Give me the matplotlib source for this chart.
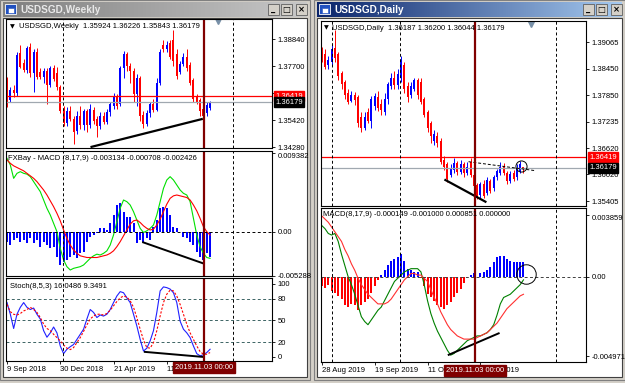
import numpy as np
import matplotlib
matplotlib.use("Agg")
import matplotlib.pyplot as plt
from matplotlib.patches import Rectangle
from matplotlib.transforms import blended_transform_factory as blend

plt.rcParams['font.family'] = ['Liberation Sans', 'DejaVu Sans']

# ---------------- weekly USDSGD ----------------
wk_open = [1.3711, 1.3627, 1.3669, 1.3655, 1.3824, 1.3781, 1.3753, 1.3850, 1.3740, 1.3830,
           1.3745, 1.3725, 1.3750, 1.3690, 1.3760, 1.3740, 1.3680, 1.3590, 1.3530, 1.3580,
           1.3545, 1.3495, 1.3560, 1.3520, 1.3580, 1.3520, 1.3585, 1.3545, 1.3515, 1.3560,
           1.3535, 1.3575, 1.3600, 1.3640, 1.3610, 1.3760, 1.3820, 1.3770, 1.3750, 1.3650,
           1.3720, 1.3565, 1.3525, 1.3570, 1.3610, 1.3585, 1.3700, 1.3860, 1.3840, 1.3866,
           1.3880, 1.3820, 1.3745, 1.3780, 1.3810, 1.3775, 1.3710, 1.3640, 1.3625, 1.3590,
           1.3570, 1.35924]
wk_close = [1.3627, 1.3669, 1.3655, 1.3817, 1.3767, 1.3753, 1.3845, 1.3740, 1.3830, 1.3725,
            1.3725, 1.3750, 1.3690, 1.3760, 1.3715, 1.3680, 1.3580, 1.3530, 1.3580, 1.3545,
            1.3490, 1.3560, 1.3520, 1.3580, 1.3520, 1.3590, 1.3540, 1.3515, 1.3560, 1.3535,
            1.3575, 1.3610, 1.3640, 1.3600, 1.3760, 1.3820, 1.3770, 1.3750, 1.3650, 1.3720,
            1.3560, 1.3525, 1.3570, 1.3610, 1.3585, 1.3700, 1.3830, 1.3840, 1.3860, 1.3810,
            1.3790, 1.3730, 1.3780, 1.3810, 1.3760, 1.3700, 1.3630, 1.3620, 1.3580, 1.3560,
            1.3605, 1.36179]
wk_high = [1.3725, 1.3683, 1.3690, 1.3830, 1.3858, 1.3800, 1.3855, 1.3866, 1.3840, 1.3845,
           1.3760, 1.3760, 1.3760, 1.3770, 1.3775, 1.3767, 1.3690, 1.3600, 1.3595, 1.3600,
           1.3560, 1.3580, 1.3600, 1.3590, 1.3590, 1.3610, 1.3595, 1.3560, 1.3575, 1.3575,
           1.3590, 1.3620, 1.3655, 1.3650, 1.3770, 1.3835, 1.3830, 1.3781, 1.3760, 1.3735,
           1.3730, 1.3580, 1.3585, 1.3620, 1.3630, 1.3720, 1.3840, 1.3880, 1.3875, 1.3880,
           1.3920, 1.3840, 1.3790, 1.3825, 1.3840, 1.3785, 1.3720, 1.3650, 1.3635, 1.3600,
           1.3620, 1.36226]
wk_low = [1.3599, 1.3620, 1.3640, 1.3645, 1.3760, 1.3745, 1.3740, 1.3725, 1.3660, 1.3715,
          1.3715, 1.3700, 1.3610, 1.3680, 1.3705, 1.3670, 1.3570, 1.3515, 1.3515, 1.3540,
          1.3440, 1.3485, 1.3505, 1.3500, 1.3490, 1.3510, 1.3525, 1.3470, 1.3505, 1.3525,
          1.3525, 1.3560, 1.3590, 1.3590, 1.3600, 1.3720, 1.3750, 1.3700, 1.3620, 1.3600,
          1.3540, 1.3510, 1.3515, 1.3555, 1.3575, 1.3580, 1.3690, 1.3830, 1.3830, 1.3800,
          1.3770, 1.3715, 1.3735, 1.3770, 1.3750, 1.3690, 1.3620, 1.3610, 1.3560, 1.3545,
          1.3560, 1.35843]
wk_hist = [-0.0012, -0.0016, -0.0010, -0.0008, -0.0012, -0.0010, -0.0014, -0.0008, -0.0014, -0.0010,
           -0.0018, -0.0012, -0.0016, -0.0020, -0.0018, -0.0030, -0.0040, -0.0036, -0.0034, -0.0030,
           -0.0028, -0.0032, -0.0026, -0.0024, -0.0012, -0.0006, -0.0004, -0.0002, 0.0004, 0.0004,
           0.0002, 0.0010, 0.0020, 0.0032, 0.0034, 0.0024, 0.0018, 0.0018, 0.0010, -0.0014,
           -0.0010, -0.0012, -0.0008, -0.0010, 0.0006, 0.0014, 0.0028, 0.0030, 0.0028, 0.0020,
           0.0006, 0.0004, 0.0000, -0.0006, -0.0008, -0.0012, -0.0016, -0.0024, -0.0030, -0.0034,
           -0.0026, -0.0030]
wk_macd = [0.0088, 0.0080, 0.0064, 0.0070, 0.0072, 0.0070, 0.0069, 0.0066, 0.0060, 0.0054,
           0.0048, 0.0038, 0.0028, 0.0020, 0.0010, 0.0000, -0.0020, -0.0034, -0.0042, -0.0046,
           -0.0044, -0.0043, -0.0042, -0.0040, -0.0036, -0.0032, -0.0029, -0.0027, -0.0028, -0.0026,
           -0.0023, -0.0016, -0.0004, 0.0012, 0.0028, 0.0038, 0.0036, 0.0032, 0.0024, 0.0014,
           0.0004, -0.0001, 0.0001, 0.0004, 0.0008, 0.0020, 0.0036, 0.0052, 0.0062, 0.0066,
           0.0062, 0.0056, 0.0050, 0.0046, 0.0044, 0.0036, 0.0016, -0.0004, -0.0018, -0.0026,
           -0.0031, -0.0032]
wk_signal = [0.0086, 0.0082, 0.0079, 0.0077, 0.0075, 0.0073, 0.0070, 0.0067, 0.0064, 0.0060,
             0.0055, 0.0050, 0.0044, 0.0037, 0.0030, 0.0022, 0.0013, 0.0002, -0.0008, -0.0016,
             -0.0022, -0.0026, -0.0029, -0.0030, -0.0031, -0.0031, -0.0031, -0.0031, -0.0030, -0.0029,
             -0.0028, -0.0026, -0.0023, -0.0018, -0.0012, -0.0005, 0.0002, 0.0009, 0.0013, 0.0014,
             0.0011, 0.0007, 0.0004, 0.0002, 0.0003, 0.0008, 0.0015, 0.0024, 0.0033, 0.0040,
             0.0043, 0.0044, 0.0043, 0.0042, 0.0041, 0.0038, 0.0032, 0.0025, 0.0016, 0.0006,
             0.0000, -0.0004]
wk_stoch_k = [74.5, 58.5, 39, 58.5, 68, 74.5, 68, 65, 67, 58.5,
              52, 36, 27, 33, 41, 33, 15, 4.5, 10.5, 14,
              17, 24, 31, 38, 52, 65, 61, 54, 57.5, 56,
              58.5, 65, 74.5, 83.5, 89.5, 88, 81, 74.5, 58.5, 42.5,
              24, 8, 12, 22, 36, 61, 90.5, 96, 95, 93,
              88, 74.5, 49, 38, 33, 26.5, 15, 4.5, 1.5, 3,
              6, 10.5]
wk_stoch_d = [72, 62, 58.5, 57.5, 59.5, 63, 65, 68, 65, 61,
              54, 45, 39, 36, 31, 26.5, 22, 16.5, 12, 10,
              12.8, 19.7, 26.5, 35, 44, 52, 56, 58.5, 58.5, 57.5,
              59.5, 64, 70, 76, 81, 83.5, 82, 77, 68, 54,
              38, 23, 12.8, 12, 19.7, 36, 56, 74.5, 86, 91.5,
              90.5, 83.5, 72, 58.5, 45, 33, 24, 15, 7.3, 3.7,
              3.7, 6]
wk_date_idx = [0, 16, 32, 48]
wk_date_lbl = ["9 Sep 2018", "30 Dec 2018", "21 Apr 2019", "11 Aug 2019"]
wk_price_ticks = [1.38840, 1.37700, 1.36560, 1.35420, 1.34280]
wk_grid = [16.8, 67.9]
wk_cursor = 59.2
wk_trend_price = ([25.4, 58.5], [1.3429, 1.3546])
wk_trend_macd = ([40.9, 58.9], [-0.00128, -0.0038])
wk_trend_stoch = ([41.4, 58.9], [6.9, 0.0])

# ---------------- daily USDSGD ----------------
dy_open = [1.3885, 1.3880, 1.3855, 1.3862, 1.3893, 1.3880, 1.3835, 1.3815, 1.3790, 1.3772,
           1.3785, 1.3780, 1.3735, 1.3710, 1.3745, 1.3725, 1.3760, 1.3780, 1.3765, 1.3745,
           1.3775, 1.3805, 1.3825, 1.3808, 1.3825, 1.3855, 1.3805, 1.3785, 1.3800, 1.3820,
           1.3815, 1.3775, 1.3745, 1.3720, 1.3680, 1.3690, 1.3680, 1.3635, 1.3625, 1.3600,
           1.3612, 1.3628, 1.3608, 1.3625, 1.3605, 1.3630, 1.3600, 1.3578, 1.3555, 1.3580,
           1.3560, 1.3588, 1.3570, 1.3595, 1.3605, 1.3622, 1.3605, 1.3588, 1.3605, 1.3595,
           1.3610, 1.36187]
dy_close = [1.3870, 1.3850, 1.3865, 1.3890, 1.3870, 1.3830, 1.3810, 1.3785, 1.3770, 1.3785,
            1.3773, 1.3720, 1.3710, 1.3735, 1.3725, 1.3775, 1.3782, 1.3755, 1.3750, 1.3775,
            1.3810, 1.3825, 1.3808, 1.3833, 1.3866, 1.3800, 1.3780, 1.3805, 1.3820, 1.3785,
            1.3770, 1.3740, 1.3710, 1.3690, 1.3695, 1.3675, 1.3630, 1.3620, 1.3592, 1.3615,
            1.3628, 1.3608, 1.3625, 1.3605, 1.3620, 1.3600, 1.3575, 1.3552, 1.3580, 1.3553,
            1.3590, 1.3565, 1.3595, 1.3610, 1.3620, 1.3605, 1.3588, 1.3602, 1.3592, 1.3618,
            1.3625, 1.36179]
dy_high = [1.3895, 1.3890, 1.3875, 1.3900, 1.3935, 1.3885, 1.3840, 1.3820, 1.3798, 1.3795,
           1.3792, 1.3785, 1.3745, 1.3745, 1.3755, 1.3782, 1.3790, 1.3795, 1.3775, 1.3790,
           1.3815, 1.3835, 1.3840, 1.3845, 1.3875, 1.3862, 1.3815, 1.3815, 1.3825, 1.3825,
           1.3825, 1.3780, 1.3750, 1.3725, 1.3705, 1.3700, 1.3685, 1.3645, 1.3630, 1.3625,
           1.3640, 1.3632, 1.3635, 1.3630, 1.3630, 1.3640, 1.3605, 1.3582, 1.3585, 1.3590,
           1.3595, 1.3592, 1.3600, 1.3615, 1.3630, 1.3628, 1.3610, 1.3610, 1.3612, 1.3625,
           1.3632, 1.36200]
dy_low = [1.3860, 1.3845, 1.3845, 1.3855, 1.3862, 1.3820, 1.3800, 1.3775, 1.3765, 1.3768,
          1.3762, 1.3712, 1.3700, 1.3705, 1.3720, 1.3708, 1.3750, 1.3748, 1.3738, 1.3738,
          1.3765, 1.3800, 1.3800, 1.3800, 1.3815, 1.3790, 1.3770, 1.3778, 1.3795, 1.3775,
          1.3765, 1.3735, 1.3700, 1.3675, 1.3670, 1.3665, 1.3625, 1.3612, 1.3585, 1.3595,
          1.3605, 1.3600, 1.3603, 1.3595, 1.3600, 1.3595, 1.3568, 1.3545, 1.3548, 1.3548,
          1.3555, 1.3560, 1.3565, 1.3590, 1.3600, 1.3600, 1.3580, 1.3583, 1.3588, 1.3590,
          1.3605, 1.36044]
dy_hist = [-0.0006, -0.0007, -0.0005, -0.0009, -0.0010, -0.0012, -0.0014, -0.0018, -0.0019, -0.0017,
           -0.0018, -0.0021, -0.0018, -0.0016, -0.0014, -0.0010, -0.0006, -0.0002, 0.0001, 0.0004,
           0.0007, 0.0010, 0.0011, 0.0012, 0.0014, 0.0010, 0.0005, 0.0004, 0.0003, 0.0003,
           -0.0001, -0.0006, -0.0011, -0.0013, -0.0015, -0.0018, -0.0019, -0.0020, -0.0018, -0.0016,
           -0.0013, -0.0010, -0.0008, -0.0004, 0.0000, 0.0001, 0.0002, 0.0000, 0.0002, 0.0003,
           0.0004, 0.0006, 0.0009, 0.0012, 0.0013, 0.0013, 0.0011, 0.0010, 0.0009, 0.0009,
           0.0009, 0.0009]
dy_macd = [0.0032, 0.0030, 0.0027, 0.0026, 0.0027, 0.0022, 0.0014, 0.0007, 0.0000, -0.0005,
           -0.0011, -0.0018, -0.0025, -0.0028, -0.0030, -0.0027, -0.0024, -0.0021, -0.0019, -0.0015,
           -0.0011, -0.0007, -0.0003, -0.0001, 0.0001, 0.0003, 0.0004, 0.0005, 0.0005, 0.0005,
           0.0003, -0.0005, -0.0015, -0.0023, -0.0029, -0.0034, -0.0038, -0.0042, -0.0046, -0.0049,
           -0.0048, -0.0046, -0.0044, -0.0042, -0.0040, -0.0039, -0.0038, -0.0037, -0.0037, -0.0036,
           -0.0035, -0.0033, -0.0030, -0.0024, -0.0017, -0.0013, -0.0012, -0.0011, -0.0009, -0.0007,
           -0.0005, -0.0002]
dy_signal = [0.0038, 0.0036, 0.0034, 0.0031, 0.0028, 0.0025, 0.0022, 0.0017, 0.0013, 0.0008,
             0.0004, -0.0001, -0.0005, -0.0008, -0.0011, -0.0013, -0.0015, -0.0017, -0.0017, -0.0017,
             -0.0016, -0.0014, -0.0011, -0.0008, -0.0005, -0.0002, 0.0000, 0.0002, 0.0002, 0.0001,
             0.0001, -0.0001, -0.0003, -0.0008, -0.0013, -0.0017, -0.0022, -0.0026, -0.0030, -0.0033,
             -0.0035, -0.0037, -0.0038, -0.0039, -0.0039, -0.0039, -0.0039, -0.0038, -0.0037, -0.0036,
             -0.0035, -0.0033, -0.0031, -0.0029, -0.0026, -0.0023, -0.0020, -0.0018, -0.0016, -0.0014,
             -0.0012, -0.0011]
dy_date_idx = [0, 16, 32, 48]
dy_date_lbl = ["28 Aug 2019", "19 Sep 2019", "11 Oct 2019", "5 Nov 2019"]
dy_price_ticks = [1.39065, 1.38450, 1.37850, 1.37235, 1.36620, 1.36020, 1.35405]
dy_grid = [3.1, 23.7, 70.7]
dy_cursor = 46.4
dy_trend_price = ([37.4, 49.5], [1.35892, 1.35392])
dy_dash_price = ([44.4, 64.6], [1.36314, 1.36107])
dy_trend_macd = ([38.4, 53.5], [-0.00488, -0.00354])
dy_circle_price = (60.4, 1.36222)
dy_circle_macd = (61.9, 0.00017)

level_red = 1.36419
level_bid = 1.36179

W, H = 625, 383
FS = 5.5
fig = plt.figure(figsize=(W / 100, H / 100), dpi=100)


def px_axes(x0, y0, x1, y1):
    return fig.add_axes([x0 / W, 1 - y1 / H, (x1 - x0) / W, (y1 - y0) / H])


# background, windows, title bars
bg = px_axes(0, 0, W, H)
bg.axis('off')
bg.add_patch(Rectangle((0, 0), W, H, color='#d4d0c8'))


def window(x0, x1, title, c0, c1, tcol):
    bg.add_patch(Rectangle((x0, 0), x1 - x0, 380, fc='#d4d0c8', ec='#808080', lw=0.8))
    bg.add_patch(Rectangle((x0 + 3, 18), x1 - x0 - 6, 359, fc='white', ec='#404040', lw=0.8))
    grad = np.linspace(0, 1, 200)[None, :, None]
    col = np.array(matplotlib.colors.to_rgb(c0)) * (1 - grad) + np.array(matplotlib.colors.to_rgb(c1)) * grad
    bg.imshow(col, extent=(x0 + 3, x1 - 3, 17, 2), aspect='auto', zorder=1)
    bg.add_patch(Rectangle((x0 + 5, 4), 11, 10, fc='#2050c0', ec='white', lw=0.6, zorder=2))
    bg.add_patch(Rectangle((x0 + 8, 8), 6, 5, fc='white', ec='#2050c0', lw=0.4, zorder=2))
    bg.text(x0 + 20, 10, title, color=tcol, fontsize=7.2, fontweight='bold', va='center', zorder=3)
    for k, g in enumerate(['_', '□', '×']):
        bx = x1 - 42 + k * 13 + (2 if k == 2 else 0)
        bg.add_patch(Rectangle((bx, 4), 11, 11, fc='#d4d0c8', ec='#606060', lw=0.6, zorder=2))
        bg.text(bx + 5.5, 9.5, g, fontsize=6, ha='center', va='center',
                fontweight='bold', zorder=3, family=['DejaVu Sans'])


window(0, 310, "USDSGD,Weekly", '#808080', '#c8c8c8', '#e8e8e8')
window(314, 625, "USDSGD,Daily", '#0a246a', '#a6caf0', 'white')
bg.set_xlim(0, W)
bg.set_ylim(H, 0)


def panel(box, xlim, ylim, ticks, labels, top_label_down=False):
    ax = px_axes(*box)
    ax.set_xlim(*xlim)
    ax.set_ylim(*ylim)
    ax.yaxis.tick_right()
    ax.set_yticks(ticks)
    ax.set_yticklabels(labels, fontsize=FS)
    ax.tick_params(axis='y', length=2.5, width=0.6, pad=1.5)
    ax.set_xticks([])
    if top_label_down:
        ax.get_yticklabels()[0].set_va('top')
    for s in ax.spines.values():
        s.set_linewidth(0.8)
    return ax


def candles(ax, o, h, l, c):
    o, h, l, c = map(np.asarray, (o, h, l, c))
    x = np.arange(len(c))
    col = np.where(c >= o, '#0000ff', '#ff0000')
    ax.vlines(x, l, h, colors=col, lw=0.7)
    ax.bar(x, np.maximum(np.abs(c - o), 0.00006), bottom=np.minimum(o, c),
           width=0.6, color=col, lw=0)


def vlines(ax, grid, cursor):
    for g in grid:
        ax.axvline(g, color='black', lw=0.7, ls=(0, (3, 2.5)))
    ax.axvline(cursor, color='#800000', lw=1.6)


def date_axis(ax, idx, lbl, cursor):
    ax.set_xticks(idx)
    ax.set_xticklabels(lbl, ha='left', fontsize=FS)
    ax.tick_params(axis='x', length=2, width=0.6, pad=1.5)
    ax.text(cursor, -0.035, "2019.11.03 00:00", transform=blend(ax.transData, ax.transAxes),
            ha='center', va='top', fontsize=FS, color='white', zorder=20, clip_on=False,
            bbox=dict(boxstyle='square,pad=0.25', fc='#800000', ec='#800000'))


def price_boxes(ax):
    tr = blend(ax.transAxes, ax.transData)
    ax.axhline(level_red, color='#ff0000', lw=0.9)
    ax.axhline(level_bid, color='#a0a8b0', lw=0.9)
    ax.text(1.012, level_red, f"{level_red:.5f}", transform=tr, va='center', ha='left',
            fontsize=FS, color='white', zorder=20, clip_on=False,
            bbox=dict(boxstyle='square,pad=0.2', fc='#ff0000', ec='#ff0000'))
    ax.text(1.012, level_bid, f"{level_bid:.5f}", transform=tr, va='center', ha='left',
            fontsize=FS, color='white', zorder=21, clip_on=False,
            bbox=dict(boxstyle='square,pad=0.2', fc='black', ec='black'))


# ---------------- weekly panels ----------------
wk_xlim = (-0.3, 79.6)
wx = np.arange(len(wk_close))

ax1 = panel((6, 19, 272, 148), wk_xlim, (1.34241, 1.39684), wk_price_ticks,
            [f"{t:.5f}" for t in wk_price_ticks])
candles(ax1, wk_open, wk_high, wk_low, wk_close)
price_boxes(ax1)
ax1.plot(*wk_trend_price, color='black', lw=1.6)
vlines(ax1, wk_grid, wk_cursor)
ax1.plot(63.4, 0.985, marker='v', ms=4, color='#7890a8', transform=blend(ax1.transData, ax1.transAxes))

ax2 = panel((6, 151, 272, 276), wk_xlim, (-0.00532, 0.00968), [0.009382, 0.0, -0.005288],
            ["0.009382", "0.00", "-0.005288"], top_label_down=True)
ax2.bar(wx, wk_hist, width=0.6, color='#0000ff', lw=0)
ax2.plot(wx, wk_macd, color='#00e000', lw=0.8)
ax2.plot(wx, wk_signal, color='#ff0000', lw=0.8)
ax2.axhline(0, color='black', lw=0.7, ls=(0, (3, 2.5)))
ax2.plot(*wk_trend_macd, color='black', lw=1.4)
vlines(ax2, wk_grid, wk_cursor)

ax3 = panel((6, 278, 272, 361), wk_xlim, (-5.6, 108.2), [100, 80, 50, 20, 0],
            ["100", "80", "50", "20", "0"])
for lv in (20, 50, 80):
    ax3.axhline(lv, color='#3c6464', lw=0.7, ls=(0, (3, 2.5)))
ax3.plot(wx, wk_stoch_k, color='#2020ff', lw=0.8)
ax3.plot(wx, wk_stoch_d, color='#ff0000', lw=0.8, ls=(0, (2, 1.5)))
ax3.plot(*wk_trend_stoch, color='black', lw=1.4)
vlines(ax3, wk_grid, wk_cursor)
date_axis(ax3, wk_date_idx, wk_date_lbl, wk_cursor)

# ---------------- daily panels ----------------
dy_xlim = (-0.2, 79.9)
dx = np.arange(len(dy_close))

ax4 = panel((321, 21, 586, 206), dy_xlim, (1.35293, 1.39556), dy_price_ticks,
            [f"{t:.5f}" for t in dy_price_ticks])
candles(ax4, dy_open, dy_high, dy_low, dy_close)
price_boxes(ax4)
ax4.plot(*dy_trend_price, color='black', lw=1.6)
ax4.plot(*dy_dash_price, color='black', lw=0.7, ls=(0, (3, 2)))
ax4.plot(*dy_circle_price, marker='o', ms=8, mfc='none', mec='black', mew=0.7)
vlines(ax4, dy_grid, dy_cursor)
ax4.plot(63.4, 0.985, marker='v', ms=4, color='#7890a8', transform=blend(ax4.transData, ax4.transAxes))

ax5 = panel((321, 208, 586, 362), dy_xlim, (-0.00533, 0.00429), [0.003859, 0.0, -0.004971],
            ["0.003859", "0.00", "-0.004971"], top_label_down=True)
hc = np.where(np.asarray(dy_hist) >= 0, '#0000ff', '#ff0000')
ax5.bar(dx, dy_hist, width=0.6, color=hc, lw=0)
ax5.plot(dx, dy_macd, color='#008000', lw=0.8)
ax5.plot(dx, dy_signal, color='#ff3030', lw=0.8)
ax5.axhline(0, color='#404040', lw=0.7, ls=(0, (3, 2.5)))
ax5.plot(*dy_trend_macd, color='black', lw=1.4)
ax5.plot(*dy_circle_macd, marker='o', ms=14, mfc='none', mec='black', mew=0.7)
vlines(ax5, dy_grid, dy_cursor)
date_axis(ax5, dy_date_idx, dy_date_lbl, dy_cursor)

# ---------------- header texts ----------------
fg = px_axes(0, 0, W, H)
fg.axis('off')
fg.set_xlim(0, W)
fg.set_ylim(H, 0)
hdr = dict(fontsize=FS, va='center', ha='left', color='black')
fg.text(10, 27, "▼", fontsize=4.5, va='center', family=['DejaVu Sans'])
fg.text(19, 27, "USDSGD,Weekly  1.35924 1.36226 1.35843 1.36179", **hdr)
fg.text(8, 159, "FXBay - MACD (8,17,9) -0.003134 -0.000708 -0.002426", **hdr)
fg.text(10, 286, "Stoch(8,5,3) 16.0486 9.3491", **hdr)
fg.text(324, 28, "▼", fontsize=4.5, va='center', family=['DejaVu Sans'])
fg.text(332, 28, "USDSGD,Daily  1.36187 1.36200 1.36044 1.36179", **hdr)
fg.text(323, 215, "MACD(8,17,9) -0.000149 -0.001000 0.000851 0.000000", **hdr)

fig.savefig("out.png", dpi=100)
